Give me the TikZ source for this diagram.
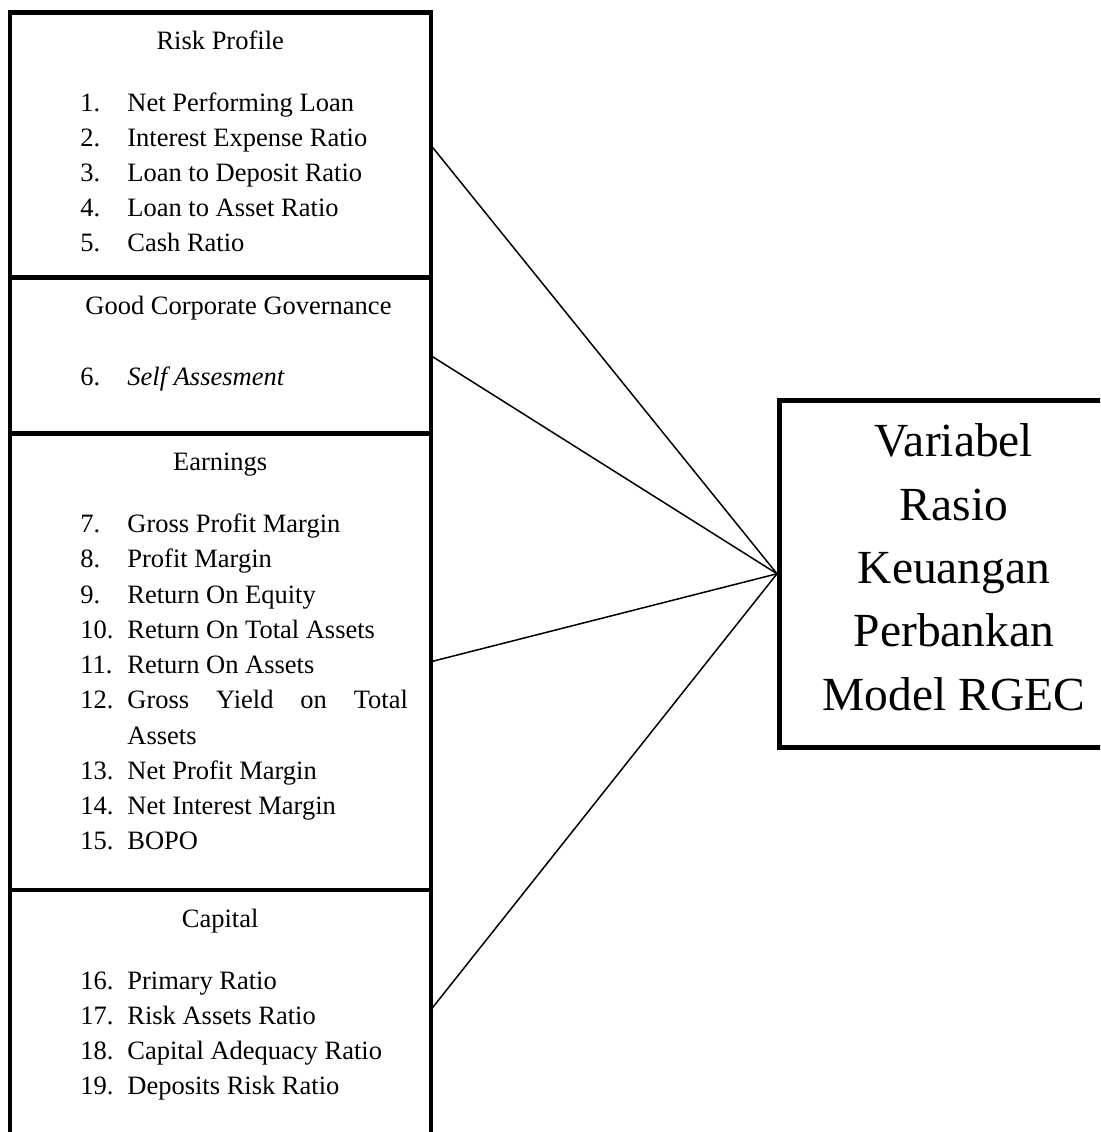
\documentclass[tikz,border=0pt]{standalone}
\usepackage{fontspec}
\setmainfont{Liberation Serif}
\usetikzlibrary{fit}
\begin{document}
\begin{tikzpicture}[x=0.5pt,y=-0.5pt,
  frame/.style={line width=2.15pt, line join=miter},
  conn/.style={line width=0.75pt},
  sect/.style={inner sep=0pt, outer sep=0pt, draw=none},
  bigbox/.style={draw, line width=2.5pt, inner sep=0pt},
  hdr/.style={anchor=base, inner sep=0pt, font=\fontsize{13.25}{16}\selectfont},
  itm/.style={anchor=base west, inner sep=0pt, font=\fontsize{13.25}{16}\selectfont},
  big/.style={anchor=base, inner sep=0pt, font=\fontsize{23.75}{30}\selectfont}]
\path[use as bounding box, fill=white] (0,0) rectangle (1100,1132);
\clip (0,0) rectangle (1100,1132);

% sections of the left column
\node[sect, fit={(9.7,12.5) (430.7,277.5)}] (rp) {};
\node[sect, fit={(9.7,277.5) (430.7,433.5)}] (gcg) {};
\node[sect, fit={(9.7,433.5) (430.7,890)}] (earn) {};
\node[sect, fit={(9.7,890) (430.7,1130)}] (cap) {};

% right box
\node[bigbox, fit={(779.5,400) (1128.5,747.5)}] (rgec) {};

% connectors
\draw[conn] (rp.east) -- (rgec.west);
\draw[conn] (gcg.east) -- (rgec.west);
\draw[conn] (earn.east) -- (rgec.west);
\draw[conn] (cap.east) -- (rgec.west);

% frame of the left column
\draw[frame] ([yshift=-10pt]cap.south west) -- (rp.north west) -- (rp.north east) -- ([yshift=-10pt]cap.south east);
\draw[frame] (gcg.north west) -- (gcg.north east);
\draw[frame] (earn.north west) -- (earn.north east);
\draw[frame] (cap.north west) -- (cap.north east);

% headers
\node[hdr] (h1) at (220.2,49) {Risk Profile};
\node[itm] (h2) at (85,314) {Good Corporate Governance};
\node[hdr] (h3) at (220.2,470.7) {Earnings};
\node[hdr] (h4) at (220.2,927.7) {Capital};

% items
\foreach \n/\t/\y in {1/Net Performing Loan/111, 2/Interest Expense Ratio/146, 3/Loan to Deposit Ratio/181, 4/Loan to Asset Ratio/216, 5/Cash Ratio/251,
  7/Gross Profit Margin/532.7, 8/Profit Margin/567.95, 9/Return On Equity/603.2, 10/Return On Total Assets/638.45, 11/Return On Assets/673.7,
  13/Net Profit Margin/779.45, 14/Net Interest Margin/814.7, 15/BOPO/849.95,
  16/Primary Ratio/989.3, 17/Risk Assets Ratio/1024.5, 18/Capital Adequacy Ratio/1059.7, 19/Deposits Risk Ratio/1094.9}
  \node[itm] (i\n) at (80,\y) {\makebox[23.5pt][l]{\n.}\t};
\node[itm] (i6) at (80,385) {\makebox[23.5pt][l]{6.}\textit{Self Assesment}};
\node[itm] (i12) at (80,708.95) {\makebox[23.5pt][l]{12.}\makebox[140.25pt][s]{Gross Yield on Total}};
\node[itm] (i12b) at (127,744.2) {Assets};

% right box text
\node[big] (r1) at (954,456.7) {Variabel};
\node[big] (r2) at (954,520) {Rasio};
\node[big] (r3) at (954,583.3) {Keuangan};
\node[big] (r4) at (954,646.7) {Perbankan};
\node[big] (r5) at (954,710) {Model RGEC};
\end{tikzpicture}
\end{document}
